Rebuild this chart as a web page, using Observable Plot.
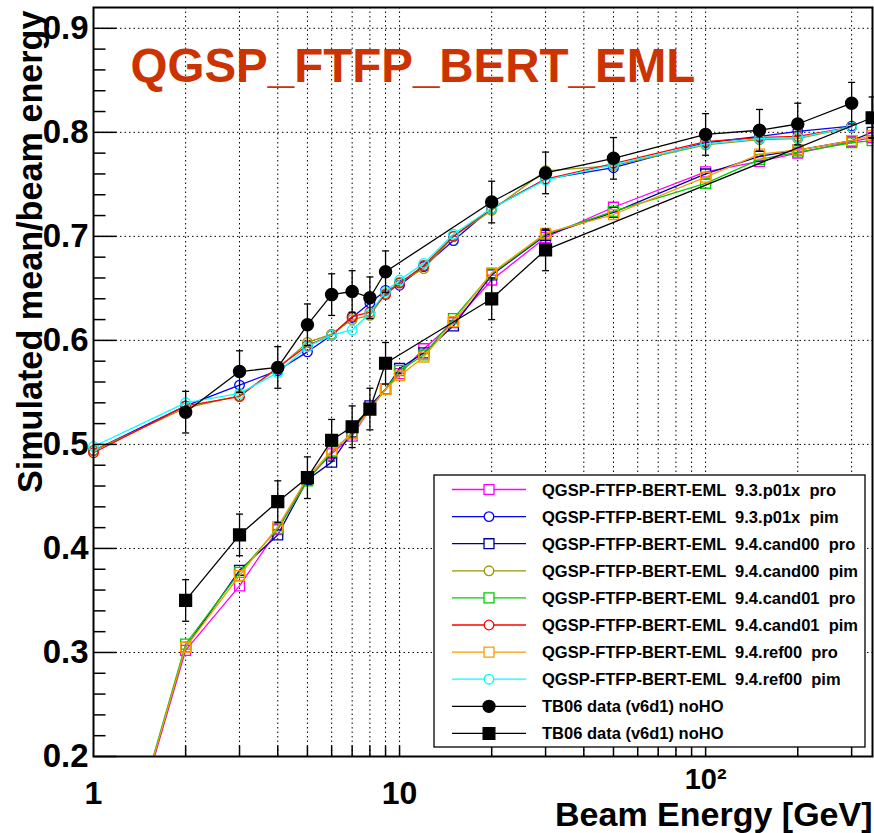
<!DOCTYPE html>
<html><head><meta charset="utf-8">
<script src="https://cdn.jsdelivr.net/npm/d3@7"></script>
<script src="https://cdn.jsdelivr.net/npm/@observablehq/plot@0.6"></script>
<style>html,body{margin:0;padding:0;background:#fff;overflow:hidden}</style>
</head><body><div id="chart"></div>
<script>
// ---------- data ----------
const simPimEnergy = [1, 2, 3, 4, 5, 6, 7, 8, 9, 10, 12, 15, 20, 30, 50, 100, 150, 200, 300];
const simProEnergy = [1, 2, 3, 4, 5, 6, 7, 8, 9, 10, 12, 15, 20, 30, 50, 100, 150, 200, 300, 350];

const pro93p01x   = [0.000, 0.302, 0.364, 0.418, 0.467, 0.491, 0.508, 0.534, 0.553, 0.568, 0.592, 0.617, 0.658, 0.699, 0.728, 0.762, 0.772, 0.780, 0.791, 0.795];
const pim93p01x   = [0.494, 0.537, 0.557, 0.571, 0.589, 0.605, 0.622, 0.636, 0.648, 0.653, 0.671, 0.696, 0.727, 0.755, 0.766, 0.790, 0.796, 0.801, 0.806];
const pro94cand00 = [0.000, 0.305, 0.379, 0.413, 0.466, 0.483, 0.512, 0.537, 0.553, 0.573, 0.588, 0.614, 0.663, 0.701, 0.723, 0.760, 0.777, 0.783, 0.792, 0.800];
const pim94cand00 = [0.494, 0.535, 0.547, 0.573, 0.598, 0.606, 0.620, 0.624, 0.645, 0.656, 0.669, 0.700, 0.725, 0.763, 0.768, 0.788, 0.793, 0.794, 0.805];
const pro94cand01 = [0.000, 0.308, 0.377, 0.419, 0.465, 0.493, 0.511, 0.534, 0.553, 0.571, 0.586, 0.621, 0.664, 0.702, 0.724, 0.751, 0.774, 0.781, 0.790, 0.792];
const pim94cand01 = [0.492, 0.537, 0.546, 0.574, 0.595, 0.605, 0.623, 0.627, 0.644, 0.655, 0.672, 0.700, 0.727, 0.755, 0.770, 0.791, 0.795, 0.796, 0.805];
const pro94ref00  = [0.000, 0.305, 0.374, 0.421, 0.468, 0.494, 0.510, 0.534, 0.553, 0.566, 0.584, 0.618, 0.665, 0.703, 0.721, 0.757, 0.779, 0.783, 0.792, 0.797];
const pim94ref00  = [0.498, 0.540, 0.549, 0.569, 0.594, 0.605, 0.610, 0.626, 0.647, 0.658, 0.674, 0.702, 0.727, 0.754, 0.769, 0.789, 0.794, 0.795, 0.805];

const dataPimEnergy = [2, 3, 4, 5, 6, 7, 8, 9, 20, 30, 50, 100, 150, 200, 300];
const dataPim       = [0.531, 0.570, 0.574, 0.615, 0.644, 0.647, 0.641, 0.666, 0.733, 0.761, 0.775, 0.798, 0.802, 0.808, 0.828];
const dataPimErr    = [0.020, 0.020, 0.020, 0.020, 0.020, 0.020, 0.020, 0.020, 0.020, 0.020, 0.020, 0.020, 0.020, 0.020, 0.020];
const dataProEnergy = [2, 3, 4, 5, 6, 7, 8, 9, 20, 30, 350];
const dataPro       = [0.350, 0.413, 0.445, 0.468, 0.504, 0.517, 0.534, 0.578, 0.640, 0.687, 0.814];
const dataProErr    = [0.020, 0.020, 0.020, 0.020, 0.020, 0.020, 0.020, 0.020, 0.020, 0.020, 0.020];

const seriesLabels = [
  "QGSP-FTFP-BERT-EML  9.3.p01x  pro",
  "QGSP-FTFP-BERT-EML  9.3.p01x  pim",
  "QGSP-FTFP-BERT-EML  9.4.cand00  pro",
  "QGSP-FTFP-BERT-EML  9.4.cand00  pim",
  "QGSP-FTFP-BERT-EML  9.4.cand01  pro",
  "QGSP-FTFP-BERT-EML  9.4.cand01  pim",
  "QGSP-FTFP-BERT-EML  9.4.ref00  pro",
  "QGSP-FTFP-BERT-EML  9.4.ref00  pim",
  "TB06 data (v6d1) noHO",
  "TB06 data (v6d1) noHO"
];
const yTickLabels = [0.2, 0.3, 0.4, 0.5, 0.6, 0.7, 0.8, 0.9];
const yMinorTicks = [0.22, 0.24, 0.26, 0.28, 0.32, 0.34, 0.36, 0.38, 0.42, 0.44, 0.46, 0.48, 0.52, 0.54, 0.56, 0.58, 0.62, 0.64, 0.66, 0.68, 0.72, 0.74, 0.76, 0.78, 0.82, 0.84, 0.86, 0.88];
const xTickLabels = [1, 10];
const xTicks = [2, 3, 4, 5, 6, 7, 8, 9, 10, 20, 30, 40, 50, 60, 70, 80, 90, 100, 200, 300];
const titleText = "QGSP_FTFP_BERT_EML";
const xTitle = "Beam Energy [GeV]";
const yTitle = "Simulated mean/beam energy";

// ---------- styles ----------
const FONT = "'Liberation Sans', Arial, Helvetica, sans-serif";
const sim = [
  {E: simProEnergy, v: pro93p01x,   color: "#ff00ff", sym: "square"},
  {E: simPimEnergy, v: pim93p01x,   color: "#0000ff", sym: "circle"},
  {E: simProEnergy, v: pro94cand00, color: "#000099", sym: "square"},
  {E: simPimEnergy, v: pim94cand00, color: "#999900", sym: "circle"},
  {E: simProEnergy, v: pro94cand01, color: "#00cc00", sym: "square"},
  {E: simPimEnergy, v: pim94cand01, color: "#ff0000", sym: "circle"},
  {E: simProEnergy, v: pro94ref00,  color: "#ff9900", sym: "square"},
  {E: simPimEnergy, v: pim94ref00,  color: "#00ffff", sym: "circle"}
];
const segH = (a, b) => ({draw(ctx) { ctx.moveTo(a, 0); ctx.lineTo(b, 0); }});
const segV = (a, b) => ({draw(ctx) { ctx.moveTo(0, a); ctx.lineTo(0, b); }});
const dotted = {stroke: "black", strokeOpacity: 1, strokeWidth: 1, strokeDasharray: "1.5,3"};

const marks = [
  Plot.gridX(xTicks, dotted),
  Plot.gridY(yTickLabels, dotted)
];
for (const s of sim) {
  marks.push(Plot.line(s.E, {x: s.E, y: s.v, stroke: s.color, strokeWidth: 1.3, clip: true}));
  marks.push(Plot.dot(s.E, {x: s.E, y: s.v, stroke: s.color, fill: "none", strokeWidth: 1.3,
    symbol: s.sym, r: s.sym === "square" ? 5.6 : 4.8, filter: (d, i) => s.v[i] >= 0.2}));
}
function dataMarks(E, v, err, sym, r) {
  const lo = v.map((d, i) => d - err[i]);
  const hi = v.map((d, i) => d + err[i]);
  return [
    Plot.ruleX(E, {x: E, y1: lo, y2: hi, stroke: "black", strokeWidth: 1.3}),
    Plot.dot(E, {x: E, y: lo, symbol: segH(-3.5, 3.5), stroke: "black", strokeWidth: 1.3}),
    Plot.dot(E, {x: E, y: hi, symbol: segH(-3.5, 3.5), stroke: "black", strokeWidth: 1.3}),
    Plot.line(E, {x: E, y: v, stroke: "black", strokeWidth: 1.3}),
    Plot.dot(E, {x: E, y: v, fill: "black", stroke: "black", symbol: sym, r})
  ];
}
marks.push(...dataMarks(dataPimEnergy, dataPim, dataPimErr, "circle", 6));
marks.push(...dataMarks(dataProEnergy, dataPro, dataProErr, "square", 6.6));

marks.push(
  Plot.frame({stroke: "black", strokeWidth: 2}),
  Plot.dot(yTickLabels, {x: () => 1, y: d => d, symbol: segH(0, 23), stroke: "black", strokeWidth: 1.5}),
  Plot.dot(yMinorTicks, {x: () => 1, y: d => d, symbol: segH(0, 12), stroke: "black", strokeWidth: 1.5}),
  Plot.dot(xTicks, {x: d => d, y: () => 0.2, symbol: segV(0, -11), stroke: "black", strokeWidth: 1.5}),
  Plot.axisY(yTickLabels, {tickSize: 0, tickPadding: 5, fontSize: 33, fontWeight: "bold",
    tickFormat: d3.format(".1f"), label: null}),
  Plot.axisX(xTickLabels, {tickSize: 0, tickPadding: 25, fontSize: 32, fontWeight: "bold",
    tickFormat: d => String(d), label: null}),
  Plot.axisX([100], {tickSize: 0, tickPadding: 12, fontSize: 29, fontWeight: "bold",
    tickFormat: () => "10²", label: null}),
  Plot.text([titleText], {frameAnchor: "top-left", dx: 37, dy: 74, textAnchor: "start",
    lineAnchor: "bottom", fontSize: 47.5, fontWeight: "bold", fill: "#cc3300"}),
  Plot.text([xTitle], {frameAnchor: "bottom-right", dy: 69, textAnchor: "end",
    lineAnchor: "bottom", fontSize: 34, fontWeight: "bold", fill: "black"}),
  Plot.text([yTitle], {frameAnchor: "top-left", dx: -52, dy: 3, rotate: -90, textAnchor: "end",
    lineAnchor: "bottom", fontSize: 34.2, fontWeight: "bold", fill: "black"})
);

const chart = Plot.plot({
  width: 874, height: 833,
  marginTop: 7, marginLeft: 93, marginRight: 2, marginBottom: 77,
  style: {fontFamily: FONT, background: "white", color: "black", overflow: "visible"},
  x: {type: "log", domain: [1, 351]},
  y: {domain: [0.2, 0.92]},
  marks
});
document.getElementById("chart").appendChild(chart);

// ---------- legend (inside the frame, like the original) ----------
const svg = d3.select(chart);
const lg = svg.append("g").attr("font-family", FONT).attr("font-weight", "bold")
  .attr("text-anchor", "start");
lg.append("rect").attr("x", 434).attr("y", 475).attr("width", 431).attr("height", 272)
  .attr("fill", "white").attr("stroke", "black").attr("stroke-width", 1.3);
const legendStyles = sim.map(s => ({color: s.color, sym: s.sym, filled: false}))
  .concat([{color: "black", sym: "circle", filled: true}, {color: "black", sym: "square", filled: true}]);
seriesLabels.forEach((lab, i) => {
  const st = legendStyles[i];
  const cy = 489.5 + i * 27.1;
  lg.append("line").attr("x1", 452).attr("x2", 526).attr("y1", cy).attr("y2", cy)
    .attr("stroke", st.color).attr("stroke-width", 1.3);
  const r = st.filled ? (st.sym === "square" ? 6.6 : 6) : (st.sym === "square" ? 5.6 : 4.8);
  const size = Math.PI * r * r;
  lg.append("path").attr("transform", `translate(489,${cy})`)
    .attr("d", d3.symbol(st.sym === "square" ? d3.symbolSquare : d3.symbolCircle, size)())
    .attr("fill", st.filled ? st.color : "white").attr("stroke", st.color).attr("stroke-width", 1.3);
  lg.append("text").attr("x", 542).attr("y", cy + 6).attr("font-size", 16.5)
    .attr("text-anchor", "start").style("white-space", "pre").attr("fill", "black").text(lab);
});
</script>
</body></html>
